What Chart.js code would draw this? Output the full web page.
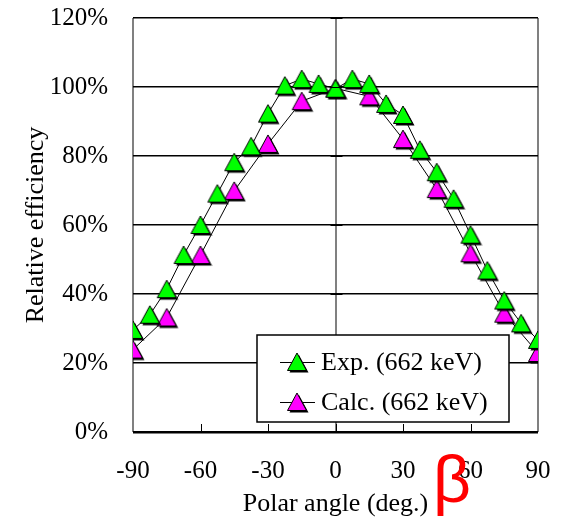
<!DOCTYPE html>
<html>
<head>
<meta charset="utf-8">
<script src="https://cdn.jsdelivr.net/npm/chart.js@4/dist/chart.umd.min.js"></script>
<style>
  html, body { margin: 0; padding: 0; background: #fff; }
  #wrap { width: 562px; height: 520px; }
</style>
</head>
<body>
<div id="wrap"><canvas id="chart" width="562" height="520"></canvas></div>
<script>
// angles (deg.) and relative efficiency (%)
const expAngles = [-90, -82.5, -75, -67.5, -60, -52.5, -45, -37.5, -30, -22.5, -15, -7.5, 0,
                   7.5, 15, 22.5, 30, 37.5, 45, 52.5, 60, 67.5, 75, 82.5, 90];
const expValues = [29.6, 34.0, 41.4, 51.3, 60.0, 69.1, 78.2, 82.8, 92.3, 100.4, 102.3, 100.9, 99.5,
                   102.3, 100.9, 95.1, 91.9, 81.8, 75.3, 67.6, 57.2, 46.8, 38.1, 31.5, 26.7];
const calcAngles = [-90, -75, -60, -45, -30, -15, 0, 15, 30, 45, 60, 75, 90];
const calcValues = [23.9, 33.2, 51.3, 69.9, 83.5, 95.9, 99.6, 97.3, 84.9, 70.4, 51.8, 34.3, 22.9];
const seriesNames = ['Exp. (662 keV)', 'Calc. (662 keV)'];
const xTicks = [-90, -60, -30, 0, 30, 60, 90];

const SERIF = '"Liberation Serif", "Times New Roman", serif';

// triangle marker with a hard drop shadow, like the spreadsheet one
function makeMarker(fill) {
  const c = document.createElement('canvas');
  c.width = 24; c.height = 24;
  const g = c.getContext('2d');
  function tri(dx, dy) {
    g.beginPath();
    g.moveTo(12 + dx, 3 + dy);
    g.lineTo(21.5 + dx, 20.5 + dy);
    g.lineTo(2.5 + dx, 20.5 + dy);
    g.closePath();
  }
  tri(2, 2);
  g.fillStyle = '#000';
  g.fill();
  tri(0, 0);
  g.fillStyle = fill;
  g.fill();
  g.lineWidth = 1;
  g.strokeStyle = '#000';
  g.stroke();
  return c;
}
const greenMarker = makeMarker('#00ff00');
const pinkMarker = makeMarker('#ff00ff');

function toPoints(xs, ys) {
  return xs.map((x, i) => ({ x: x, y: ys[i] }));
}

// tick marks on the axes that cross at 0
const axisTicks = {
  id: 'axisTicks',
  afterDatasetsDraw(chart) {
    const ctx = chart.ctx;
    const xs = chart.scales.x, ys = chart.scales.y;
    const bottom = ys.getPixelForValue(0);
    const x0 = xs.getPixelForValue(0);
    ctx.save();
    ctx.strokeStyle = '#000';
    ctx.lineWidth = 1;
    xTicks.forEach(v => {
      if (v === -90 || v === 90) return;
      const px = Math.round(xs.getPixelForValue(v)) + 0.5;
      ctx.beginPath();
      ctx.moveTo(px, bottom - 8);
      ctx.lineTo(px, bottom);
      ctx.stroke();
    });
    for (let v = 20; v <= 120; v += 20) {
      const py = Math.round(ys.getPixelForValue(v)) + 0.5;
      ctx.beginPath();
      ctx.moveTo(x0 - 5, py);
      ctx.lineTo(x0 + 7, py);
      ctx.stroke();
    }
    ctx.restore();
  }
};

// legend box inside the plot and the red beta
const boxLegend = {
  id: 'boxLegend',
  afterDraw(chart) {
    const ctx = chart.ctx;
    const markers = [greenMarker, pinkMarker];
    ctx.save();
    ctx.fillStyle = '#fff';
    ctx.fillRect(257, 335, 252, 87);
    ctx.strokeStyle = '#000';
    ctx.lineWidth = 1.5;
    ctx.strokeRect(257, 335, 252, 87);
    seriesNames.forEach((name, i) => {
      const cy = 362 + i * 40;
      ctx.beginPath();
      ctx.lineWidth = 1;
      ctx.moveTo(280, cy + 0.5);
      ctx.lineTo(315, cy + 0.5);
      ctx.stroke();
      ctx.drawImage(markers[i], 297 - 12, cy - 12);
      ctx.fillStyle = '#000';
      ctx.font = '26px ' + SERIF;
      ctx.textBaseline = 'middle';
      ctx.textAlign = 'left';
      ctx.fillText(name, 321, cy + 1);
    });
    ctx.fillStyle = '#ff0000';
    ctx.font = '66px "Liberation Sans", Arial, sans-serif';
    ctx.textBaseline = 'alphabetic';
    ctx.fillText('β', 433, 502);
    ctx.restore();
  }
};

new Chart(document.getElementById('chart'), {
  type: 'line',
  data: {
    datasets: [{
      label: seriesNames[0],
      data: toPoints(expAngles, expValues),
      borderColor: '#000',
      borderWidth: 1,
      pointStyle: greenMarker,
      tension: 0
    }, {
      label: seriesNames[1],
      data: toPoints(calcAngles, calcValues),
      borderColor: '#000',
      borderWidth: 1,
      pointStyle: pinkMarker,
      tension: 0
    }]
  },
  options: {
    responsive: false,
    animation: false,
    layout: { padding: { top: 18, right: 24, left: 0, bottom: 0 } },
    plugins: { legend: { display: false }, tooltip: { enabled: false } },
    scales: {
      x: {
        type: 'linear',
        min: -90,
        max: 90,
        afterBuildTicks: s => { s.ticks = xTicks.map(v => ({ value: v })); },
        afterFit: s => { s.height = 88; s.paddingLeft = 0; s.paddingRight = 0; },
        border: { display: false },
        grid: {
          drawTicks: false,
          lineWidth: 2,
          color: c => (c.tick && [-90, 0, 90].includes(c.tick.value)) ? '#808080' : 'rgba(0,0,0,0)'
        },
        ticks: { color: '#000', padding: 24, maxRotation: 0, font: { family: SERIF, size: 25 } },
        title: {
          display: true,
          text: 'Polar angle (deg.)',
          color: '#000',
          padding: { top: 0, bottom: 0 },
          font: { family: SERIF, size: 26 }
        }
      },
      y: {
        min: 0,
        max: 120,
        afterFit: s => { s.width = 133; s.paddingTop = 0; s.paddingBottom = 0; },
        border: { display: false },
        grid: {
          drawTicks: false,
          color: '#000',
          lineWidth: c => (c.tick && c.tick.value === 0) ? 2.5 : 1.5
        },
        ticks: {
          stepSize: 20,
          color: '#000',
          padding: 25,
          font: { family: SERIF, size: 25 },
          callback: v => v + '%'
        },
        title: {
          display: true,
          text: 'Relative efficiency',
          color: '#000',
          padding: { top: 21, bottom: 0 },
          font: { family: SERIF, size: 26 }
        }
      }
    }
  },
  plugins: [axisTicks, boxLegend]
});
</script>
</body>
</html>
